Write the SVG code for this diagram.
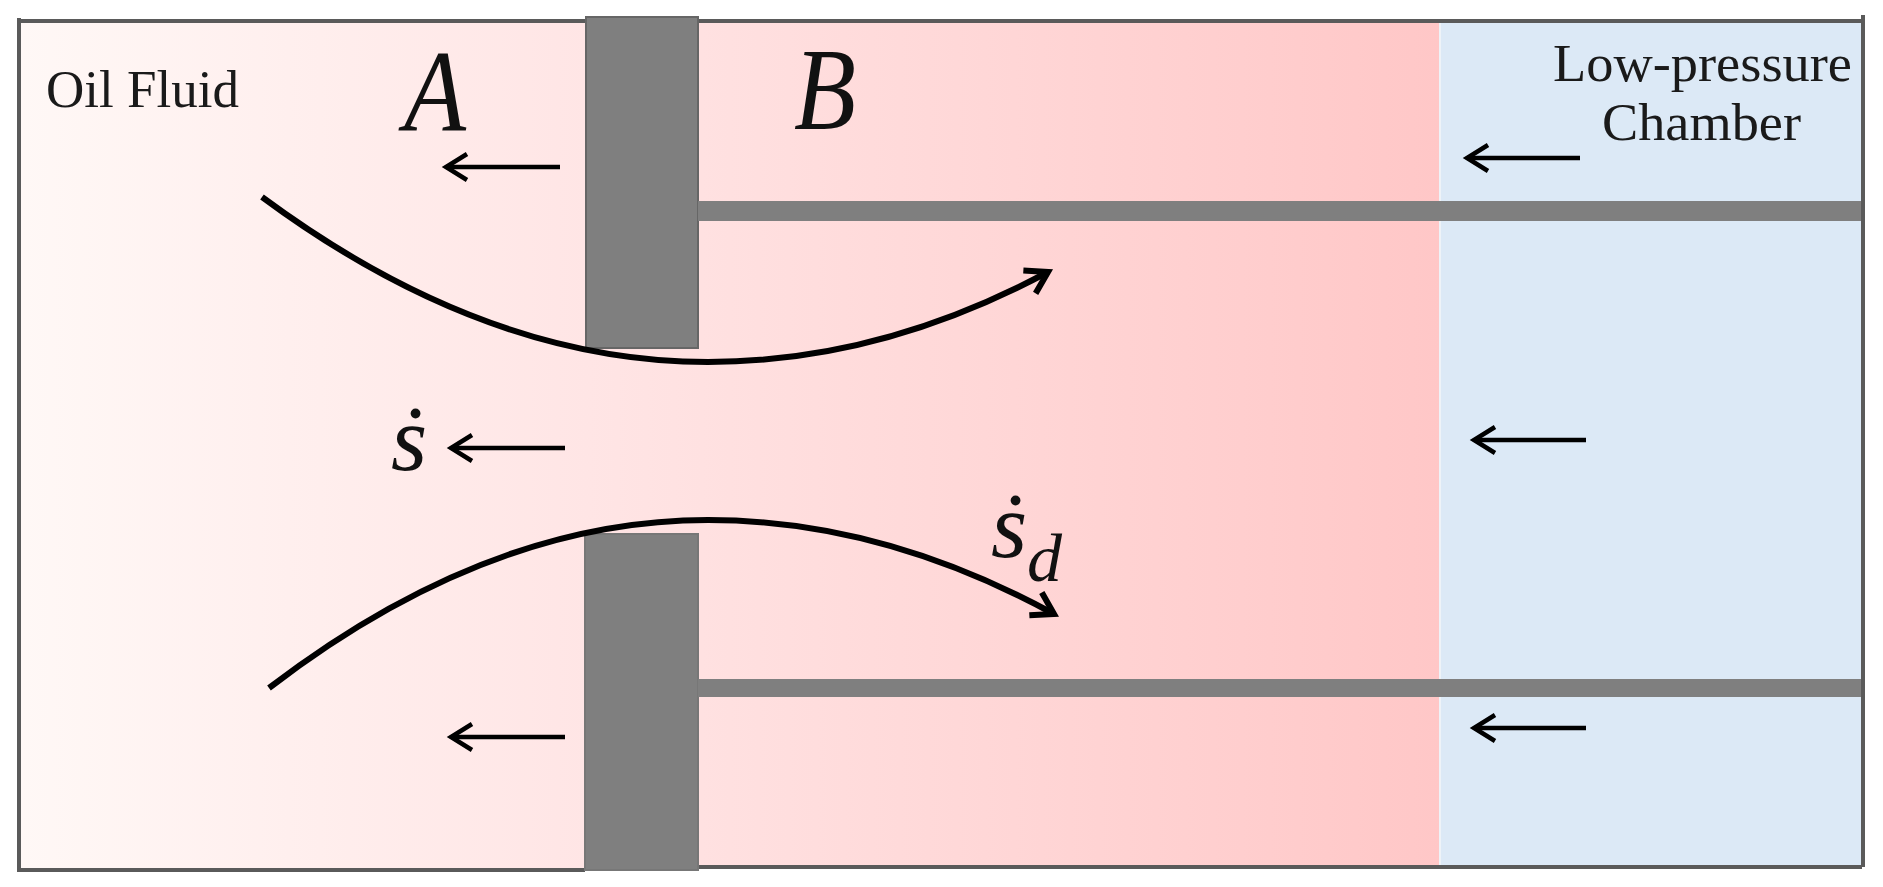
<svg xmlns="http://www.w3.org/2000/svg" width="1883" height="887" viewBox="0 0 1883 887">
<style>
.t{font-family:"Liberation Serif","Times New Roman",serif;fill:#1a1a1a;font-size:52px}
.i{font-family:"Liberation Serif","Times New Roman",serif;font-style:italic;fill:#111}
.w{stroke:#5a5a5a;stroke-width:4;fill:none}
.p{fill:#7f7f7f}
.a{stroke:#000;stroke-width:4.5;fill:none;marker-end:url(#h)}
.c{stroke:#000;stroke-width:6;fill:none;marker-end:url(#hc)}
</style>
<defs>
<linearGradient id="g" gradientUnits="userSpaceOnUse" x1="20" y1="0" x2="1440" y2="0">
<stop offset="0" stop-color="#fff8f6"/><stop offset="0.4" stop-color="#ffe5e5"/><stop offset="1" stop-color="#ffc7c7"/>
</linearGradient>
<marker id="h" markerUnits="userSpaceOnUse" markerWidth="34" markerHeight="34" refX="25" refY="15" orient="auto" overflow="visible">
<path d="M4 2L25 15L4 28" fill="none" stroke="#000" stroke-width="4.5"/>
</marker>
<marker id="hc" markerUnits="userSpaceOnUse" markerWidth="34" markerHeight="34" refX="25" refY="15" orient="auto" overflow="visible">
<path d="M4 2L25 15L4 28" fill="none" stroke="#000" stroke-width="6"/>
</marker>
</defs>
<rect x="20" y="22" width="1420" height="847" fill="url(#g)"/>
<rect x="1440" y="22" width="422" height="845" fill="#dce9f6"/>
<rect x="1439" y="22" width="2" height="845" fill="#eef3f8"/>
<path class="w" d="M19 18V870H585"/>
<path class="w" d="M19 21H585M698 21H1862"/>
<path class="w" d="M698 867H1862"/>
<path class="w" d="M1863 15V867"/>
<g id="piston">
<rect class="p" x="586" y="17" width="112" height="331" stroke="#666" stroke-width="2"/>
<rect class="p" x="585" y="534" width="113" height="336" stroke="#777" stroke-width="2"/>
<rect class="p" x="698" y="201" width="1163" height="20"/>
<rect class="p" x="698" y="679" width="1163" height="18"/>
</g>
<g id="connectors">
<path class="a" d="M560 167H446"/>
<path class="a" d="M565 448H451"/>
<path class="a" d="M565 737H451"/>
<path class="a" d="M1580 158H1467"/>
<path class="a" d="M1586 440H1474"/>
<path class="a" d="M1586 728H1474"/>
<path class="c" d="M262 197Q485 362 708 362Q880 362 1048 272"/>
<path class="c" d="M269 688Q488 520 708 520Q882 520 1054 614"/>
</g>
<g id="labels">
<text class="t" x="46" y="107" textLength="193" lengthAdjust="spacingAndGlyphs">Oil Fluid</text>
<text class="t" x="1553" y="81" textLength="299" lengthAdjust="spacingAndGlyphs">Low-pressure</text>
<text class="t" x="1602" y="140" textLength="199" lengthAdjust="spacingAndGlyphs">Chamber</text>
<text class="i" x="404" y="131" font-size="116" textLength="62" lengthAdjust="spacingAndGlyphs">A</text>
<text class="i" x="794" y="129" font-size="116" textLength="62" lengthAdjust="spacingAndGlyphs">B</text>
<text class="i" x="391" y="470" font-size="93">ṡ</text>
<text class="i" x="991" y="557" font-size="93">ṡ</text>
<text class="i" x="1027" y="581" font-size="68" textLength="35" lengthAdjust="spacingAndGlyphs">d</text>
</g>
</svg>
